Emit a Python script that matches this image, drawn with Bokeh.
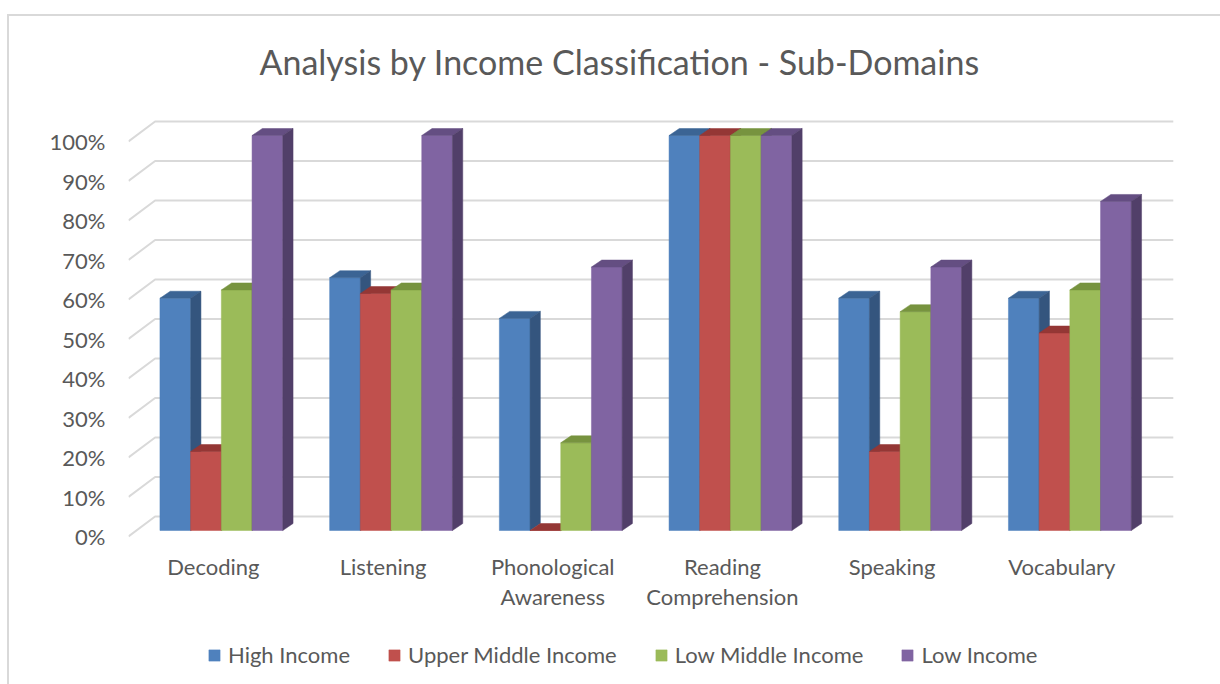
from bokeh.plotting import figure
from bokeh.models import Range1d, FixedTicker, Legend, LegendItem
from bokeh.core.properties import value
from bokeh.embed import file_html
from bokeh.resources import INLINE

# ---------------- data ----------------
categories = ["Decoding", "Listening", "Phonological\nAwareness",
              "Reading\nComprehension", "Speaking", "Vocabulary"]
series_names = ["High Income", "Upper Middle Income", "Low Middle Income", "Low Income"]
high_income = [58.8, 64.0, 53.7, 100.0, 58.8, 58.8]
upper_middle_income = [20.0, 60.0, 0.0, 100.0, 20.0, 50.0]
low_middle_income = [60.9, 60.9, 22.2, 100.0, 55.4, 60.9]
low_income = [100.0, 100.0, 66.7, 100.0, 66.7, 83.3]
y_ticks = [0, 10, 20, 30, 40, 50, 60, 70, 80, 90, 100]

front_colors = ["#4F81BD", "#C0504D", "#9BBB59", "#8064A2"]
top_colors = ["#3B6494", "#943735", "#77933F", "#644E82"]
side_colors = ["#34557E", "#7F2E2C", "#647C35", "#513F69"]

# ---------------- geometry ----------------
W, H = 1220, 684
ML, MR, MT, MB = 128, 38, 118, 0
ZERO_Y = 536          # pixel row of 0% on the front plane
PX_X = 169.7          # pixels per category
PX_Y = 3.95           # pixels per percent
frame_w = W - ML - MR
frame_h = H - MT - MB
y_lo = -(H - MB - ZERO_Y) / PX_Y
y_hi = y_lo + frame_h / PX_Y

FONT = "Lato"
TXT = "#595959"
GRID = "#D9D9D9"

p = figure(width=W, height=H, output_backend="svg", toolbar_location=None,
           x_range=Range1d(-0.5, -0.5 + frame_w / PX_X),
           y_range=Range1d(y_lo, y_hi),
           min_border_left=ML, min_border_right=MR,
           min_border_top=MT, min_border_bottom=MB)
p.outline_line_color = None
p.xgrid.visible = False
p.ygrid.visible = False
p.xaxis.visible = False
p.border_fill_color = None
p.background_fill_color = None
p.styles = {
    "background": "linear-gradient(#D9D9D9,#D9D9D9) 8px 14px / 100% 2px no-repeat, "
                  "linear-gradient(#D9D9D9,#D9D9D9) 7px 14px / 2px 100% no-repeat, white"
}

# back wall grid lines (3D depth offset)
wall_dx = 26.6 / PX_X
wall_dy = 20.0 / PX_Y
n = len(categories)
gx, gy = [], []
for t in y_ticks:
    gx.append([-0.5, -0.5 + wall_dx, n - 0.5 + wall_dx])
    gy.append([t, t + wall_dy, t + wall_dy])
p.multi_line(gx, gy, line_color=GRID, line_width=2)

# bars
bar_w = 30.7 / PX_X
shift_x = 8.0 / PX_X
shift_y = 6.0 / PX_Y
depth_x = 10.3 / PX_X
depth_y = 7.0 / PX_Y
all_series = [high_income, upper_middle_income, low_middle_income, low_income]

front_renderers = []
for k, vals in enumerate(all_series):
    lefts, rights, bottoms, tops = [], [], [], []
    txs, tys, sxs, sys_ = [], [], [], []
    for i, v in enumerate(vals):
        L = i - 2 * bar_w + k * bar_w + shift_x
        R = L + bar_w
        B = shift_y
        T = v + shift_y
        lefts.append(L); rights.append(R); bottoms.append(B); tops.append(T)
        txs.append([L, R, R + depth_x, L + depth_x])
        tys.append([T, T, T + depth_y, T + depth_y])
        sxs.append([R, R + depth_x, R + depth_x, R])
        sys_.append([B, B + depth_y, T + depth_y, T])
    r = p.quad(left=lefts, right=rights, bottom=bottoms, top=tops,
               fill_color=front_colors[k], line_color=front_colors[k], line_width=0.5)
    p.patches(txs, tys, fill_color=top_colors[k], line_color=top_colors[k], line_width=0.5)
    p.patches(sxs, sys_, fill_color=side_colors[k], line_color=side_colors[k], line_width=0.5)
    front_renderers.append(r)

# category labels (front plane, below the 0% line)
label_top = -16.0 / PX_Y
p.text(x=list(range(n)), y=[label_top] * n, text=categories,
       text_align="center", text_baseline="top", text_line_height=1.13,
       text_font=value(FONT), text_font_size="22px", text_color=TXT)

# y axis
p.yaxis.ticker = FixedTicker(ticks=y_ticks)
p.yaxis.major_label_overrides = {t: f"{t}%" for t in y_ticks}
p.yaxis.axis_line_color = None
p.yaxis.major_tick_line_color = None
p.yaxis.minor_tick_line_color = None
p.yaxis.major_tick_out = 0
p.yaxis.major_tick_in = 0
p.yaxis.minor_tick_out = 0
p.yaxis.major_label_standoff = 23
p.yaxis.major_label_text_font = FONT
p.yaxis.major_label_text_font_size = "22px"
p.yaxis.major_label_text_color = TXT

# title
p.title.text = "Analysis by Income Classification - Sub-Domains"
p.title.align = "left"
p.title.offset = 131
p.title.standoff = 73
p.title.text_font = FONT
p.title.text_font_size = "34px"
p.title.text_font_style = "normal"
p.title.text_color = TXT

# legend (inside the frame, below the category labels)
legend = Legend(items=[LegendItem(label=nm, renderers=[rr])
                       for nm, rr in zip(series_names, front_renderers)],
                orientation="horizontal", location=(79, 16),
                glyph_width=14, glyph_height=14, label_standoff=7, spacing=37,
                padding=0, margin=0, border_line_color=None,
                background_fill_color=None,
                label_text_font=FONT, label_text_font_size="22px",
                label_text_color=TXT)
p.add_layout(legend)

open("out.html", "w").write(file_html(p, INLINE))
